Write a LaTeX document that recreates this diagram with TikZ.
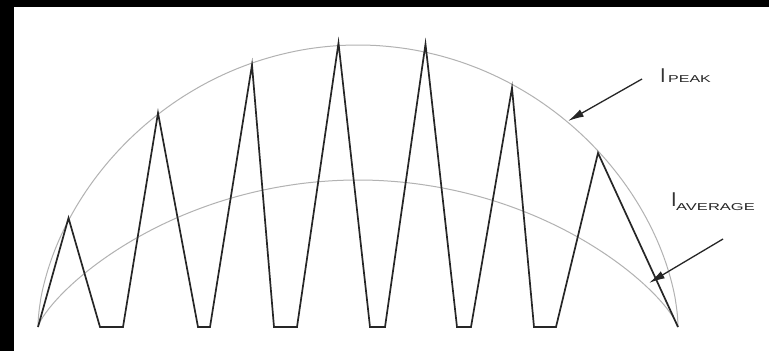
\documentclass[tikz,border=0pt]{standalone}
\usepackage{fontspec}
\setmainfont{Liberation Sans}
\usetikzlibrary{arrows.meta}
\tikzset{
  wave/.style={draw=black!85, line width=1.7pt, line join=miter},
  envarc/.style={draw=black!30, line width=1.0pt},
  callout/.style={draw=black!85, line width=1.3pt, -{Latex[length=16pt,width=8pt]}},
  bigI/.style={anchor=base west, inner sep=0pt, font=\fontsize{20}{20}\selectfont, text=black!80},
  subtxt/.style={anchor=base west, inner sep=0pt, font=\fontsize{10}{10}\selectfont, text=black!85}
}
\begin{document}
\begin{tikzpicture}[x=1pt,y=-1pt]
\useasboundingbox (0,0) rectangle (769,351);
\fill[white] (0,0) rectangle (769,351);
\fill[black] (0,0) rectangle (769,7);
\fill[black] (0,0) rectangle (14,351);
% envelopes
\draw[envarc] (38,327) -- plot[domain=0.5:179.5, samples=150, variable=\t] ({358-320*cos(\t)}, {327-282*pow(sin(\t),1.14)}) -- (678,327);
\draw[envarc] (38,327) -- plot[domain=0.5:179.5, samples=150, variable=\t] ({358-320*cos(\t)}, {327-147*pow(sin(\t),1.54)}) -- (678,327);
% triangle current
\draw[wave] (38,327) -- (68.5,218) -- (100,327) -- (123,327) -- (158,113) -- (198,327) -- (210,327)
  -- (252,65) -- (274,327) -- (297,327) -- (338.5,43) -- (370,327) -- (385,327)
  -- (425.5,44) -- (457,327) -- (471,327) -- (512,88) -- (534,327) -- (556,327)
  -- (598,153) -- (678,327);
% labels
\node[bigI] (ip) at (660,82) {I};
\node[subtxt] (ips) at (668,82) {\scalebox{1.6}[1]{PEAK}};
\node[bigI] (ia) at (671,206) {I};
\node[subtxt] (ias) at (676,210) {\scalebox{1.65}[1]{AVERAGE}};
% arrows
\coordinate (pt) at (642,79);
\coordinate (ph) at (568,121);
\coordinate (at) at (723,239);
\coordinate (ah) at (649,283);
\draw[callout] (pt) -- (ph);
\draw[callout] (at) -- (ah);
\end{tikzpicture}
\end{document}
